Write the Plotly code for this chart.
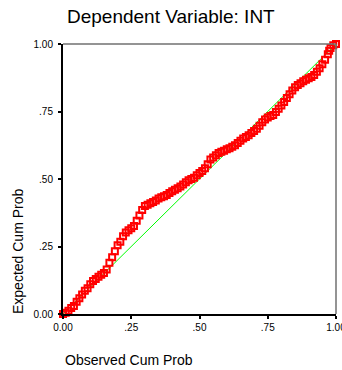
import plotly.graph_objects as go

observed = [0.00, 0.01, 0.02, 0.03, 0.04, 0.05, 0.06, 0.07, 0.08, 0.09,
            0.10, 0.11, 0.12, 0.13, 0.14, 0.15, 0.16, 0.17, 0.18, 0.19,
            0.20, 0.21, 0.22, 0.23, 0.24, 0.25, 0.26, 0.27, 0.28, 0.29,
            0.30, 0.31, 0.32, 0.33, 0.34, 0.35, 0.36, 0.37, 0.38, 0.39,
            0.40, 0.41, 0.42, 0.43, 0.44, 0.45, 0.46, 0.47, 0.48, 0.49,
            0.50, 0.51, 0.52, 0.53, 0.54, 0.55, 0.56, 0.57, 0.58, 0.59,
            0.60, 0.61, 0.62, 0.63, 0.64, 0.65, 0.66, 0.67, 0.68, 0.69,
            0.70, 0.71, 0.72, 0.73, 0.74, 0.75, 0.76, 0.77, 0.78, 0.79,
            0.80, 0.81, 0.82, 0.83, 0.84, 0.85, 0.86, 0.87, 0.88, 0.89,
            0.90, 0.91, 0.92, 0.93, 0.94, 0.95, 0.96, 0.97, 0.975, 0.98,
            0.99, 1.00]
expected = [0.000, 0.005, 0.012, 0.022, 0.030, 0.045, 0.058, 0.072, 0.086, 0.095,
            0.110, 0.122, 0.130, 0.138, 0.145, 0.152, 0.165, 0.190, 0.210, 0.232,
            0.255, 0.268, 0.288, 0.302, 0.310, 0.318, 0.326, 0.345, 0.365, 0.385,
            0.400, 0.405, 0.410, 0.415, 0.420, 0.428, 0.432, 0.436, 0.441, 0.448,
            0.455, 0.460, 0.466, 0.472, 0.480, 0.488, 0.495, 0.500, 0.505, 0.514,
            0.522, 0.530, 0.540, 0.555, 0.572, 0.580, 0.588, 0.596, 0.601, 0.605,
            0.610, 0.614, 0.619, 0.625, 0.633, 0.642, 0.650, 0.656, 0.662, 0.670,
            0.678, 0.686, 0.697, 0.710, 0.720, 0.728, 0.733, 0.737, 0.748, 0.760,
            0.772, 0.785, 0.800, 0.814, 0.828, 0.840, 0.848, 0.855, 0.862, 0.868,
            0.873, 0.878, 0.885, 0.897, 0.910, 0.925, 0.942, 0.962, 0.975, 0.985,
            0.995, 1.000]

ref_x = [0.0, 1.0]
ref_y = [0.0, 1.0]

tick_vals = [0.0, 0.25, 0.5, 0.75, 1.0]
tick_text = ["0.00", ".25", ".50", ".75", "1.00"]

FONT = "Liberation Sans, Arial, sans-serif"

fig = go.Figure()
fig.add_trace(go.Scatter(x=ref_x, y=ref_y, mode="lines",
                         line=dict(color="#00ff00", width=1),
                         showlegend=False, hoverinfo="skip"))
fig.add_trace(go.Scatter(x=observed, y=expected, mode="markers",
                         marker=dict(symbol="square-open", size=6, color="#ff0000",
                                     line=dict(color="#ff0000", width=2)),
                         cliponaxis=False, showlegend=False))

W, H = 342, 370
L, R, T, B = 63, 6, 44, 56
plot_h = H - T - B
plot_w = W - L - R

axis_common = dict(range=[0, 1], tickvals=tick_vals, ticktext=tick_text,
                   showgrid=False, zeroline=False, showline=True,
                   linecolor="black", linewidth=2, ticks="outside",
                   ticklen=3, tickwidth=2, tickcolor="black",
                   ticklabeloverflow="allow", automargin=False,
                   tickfont=dict(family=FONT, size=10, color="black"))

fig.update_layout(
    width=W, height=H, autosize=False,
    margin=dict(l=L, r=R, t=T, b=B, pad=0, autoexpand=False),
    paper_bgcolor="white", plot_bgcolor="white",
    font=dict(family=FONT, color="black"),
    xaxis=dict(**axis_common),
    yaxis=dict(**axis_common, ticklabelstandoff=3),
    shapes=[
        dict(type="line", xref="paper", yref="paper", x0=0, x1=1, y0=1, y1=1,
             line=dict(color="#707070", width=1.5)),
        dict(type="line", xref="paper", yref="paper", x0=1, x1=1, y0=0, y1=1,
             line=dict(color="#707070", width=1.5)),
    ],
    annotations=[
        dict(text="Dependent Variable: INT", xref="paper", yref="paper",
             x=(171 - L) / plot_w, y=(H - B - 17) / plot_h,
             xanchor="center", yanchor="middle", showarrow=False,
             font=dict(family=FONT, size=19, color="black")),
        dict(text="Observed Cum Prob", xref="paper", yref="paper",
             x=0, y=(H - B - 360) / plot_h,
             xanchor="left", yanchor="middle", showarrow=False,
             font=dict(family=FONT, size=14, color="black")),
        dict(text="Expected Cum Prob", xref="paper", yref="paper",
             x=(18 - L) / plot_w, y=(H - B - 252) / plot_h, textangle=-90,
             xanchor="center", yanchor="middle", showarrow=False,
             font=dict(family=FONT, size=14, color="black")),
    ],
)

fig.write_html("out.html", config={"displayModeBar": False, "responsive": False},
               default_width="342px", default_height="370px",
               post_script="document.body.style.margin='0';document.body.style.overflow='hidden';")
